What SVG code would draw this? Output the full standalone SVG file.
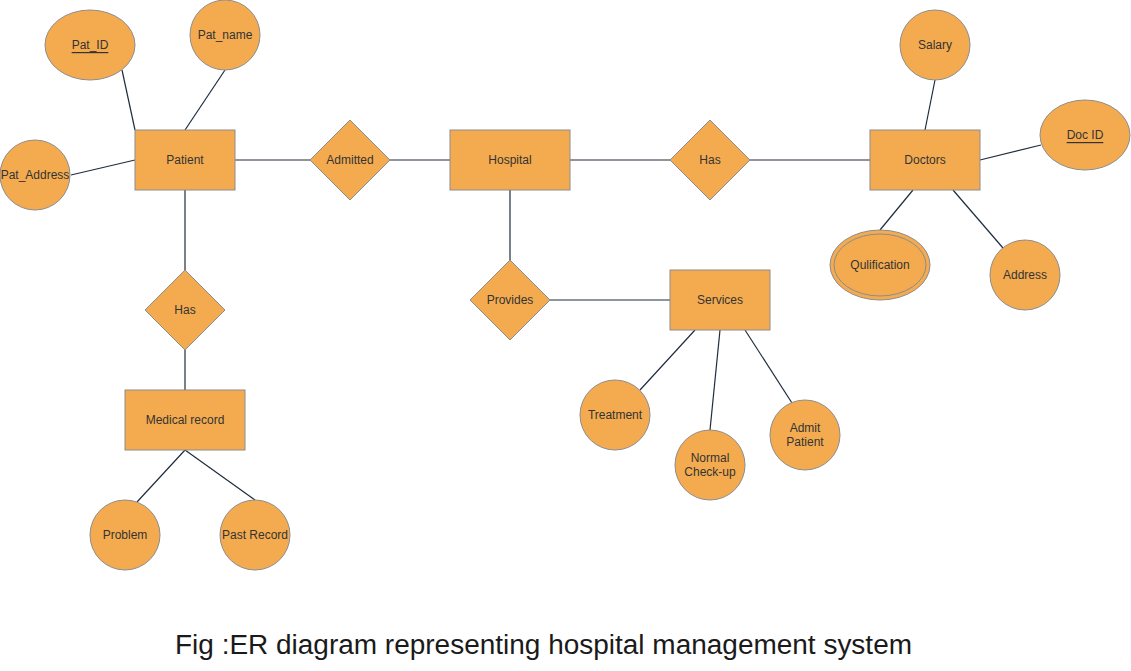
<svg xmlns="http://www.w3.org/2000/svg" width="1131" height="671" viewBox="0 0 1131 671">
<style>
.n{fill:#F4AB50;stroke:#8C8C8C;stroke-width:1}
.t{font-family:"Liberation Sans",Arial,sans-serif;font-size:12px;fill:#333333;text-anchor:middle;dominant-baseline:central}
.u{text-decoration:underline}
.c line{stroke:#1E2D3D;stroke-width:1.2}
</style>
<rect width="1131" height="671" fill="#ffffff"/>
<g class="c" id="connectors">
<line x1="122" y1="70" x2="135" y2="130"/>
<line x1="225" y1="70" x2="185" y2="130"/>
<line x1="71" y1="175" x2="135" y2="160"/>
<line x1="235" y1="160" x2="310" y2="160"/>
<line x1="390" y1="160" x2="450" y2="160"/>
<line x1="570" y1="160" x2="670" y2="160"/>
<line x1="750" y1="160" x2="870" y2="160"/>
<line x1="935" y1="80" x2="925" y2="130"/>
<line x1="980" y1="160" x2="1041" y2="145"/>
<line x1="913" y1="190" x2="880" y2="230"/>
<line x1="953" y1="190" x2="1003" y2="248"/>
<line x1="510" y1="190" x2="510" y2="260"/>
<line x1="550" y1="300" x2="670" y2="300"/>
<line x1="695" y1="330" x2="640" y2="390"/>
<line x1="720" y1="330" x2="710" y2="430"/>
<line x1="745" y1="330" x2="792" y2="403"/>
<line x1="185" y1="190" x2="185" y2="270"/>
<line x1="185" y1="350" x2="185" y2="390"/>
<line x1="185" y1="450" x2="137" y2="502"/>
<line x1="185" y1="450" x2="255" y2="500"/>
</g>
<g id="pat_id"><ellipse class="n" cx="90" cy="45" rx="45" ry="35"/><text class="t u" x="90" y="45">Pat_ID</text></g>
<g id="pat_name"><circle class="n" cx="225" cy="35" r="35"/><text class="t" x="225" y="35">Pat_name</text></g>
<g id="pat_address"><circle class="n" cx="35" cy="175" r="35"/><text class="t" x="35" y="175">Pat_Address</text></g>
<g id="patient"><rect class="n" x="135" y="130" width="100" height="60"/><text class="t" x="185" y="160">Patient</text></g>
<g id="admitted"><polygon class="n" points="350,120 390,160 350,200 310,160"/><text class="t" x="350" y="160">Admitted</text></g>
<g id="hospital"><rect class="n" x="450" y="130" width="120" height="60"/><text class="t" x="510" y="160">Hospital</text></g>
<g id="has_doc"><polygon class="n" points="710,120 750,160 710,200 670,160"/><text class="t" x="710" y="160">Has</text></g>
<g id="doctors"><rect class="n" x="870" y="130" width="110" height="60"/><text class="t" x="925" y="160">Doctors</text></g>
<g id="salary"><circle class="n" cx="935" cy="45" r="35"/><text class="t" x="935" y="45">Salary</text></g>
<g id="doc_id"><ellipse class="n" cx="1085" cy="135" rx="45" ry="35"/><text class="t u" x="1085" y="135">Doc ID</text></g>
<g id="qulification"><ellipse class="n" cx="880" cy="265" rx="50" ry="35"/><ellipse class="n" cx="880" cy="265" rx="46" ry="31"/><text class="t" x="880" y="265">Qulification</text></g>
<g id="address"><circle class="n" cx="1025" cy="275" r="35"/><text class="t" x="1025" y="275">Address</text></g>
<g id="provides"><polygon class="n" points="510,260 550,300 510,340 470,300"/><text class="t" x="510" y="300">Provides</text></g>
<g id="services"><rect class="n" x="670" y="270" width="100" height="60"/><text class="t" x="720" y="300">Services</text></g>
<g id="treatment"><circle class="n" cx="615" cy="415" r="35"/><text class="t" x="615" y="415">Treatment</text></g>
<g id="normal_checkup"><circle class="n" cx="710" cy="465" r="35"/><text class="t" x="710" y="458">Normal</text><text class="t" x="710" y="472">Check-up</text></g>
<g id="admit_patient"><circle class="n" cx="805" cy="435" r="35"/><text class="t" x="805" y="428">Admit</text><text class="t" x="805" y="442">Patient</text></g>
<g id="has_med"><polygon class="n" points="185,270 225,310 185,350 145,310"/><text class="t" x="185" y="310">Has</text></g>
<g id="medical_record"><rect class="n" x="125" y="390" width="120" height="60"/><text class="t" x="185" y="420">Medical record</text></g>
<g id="problem"><circle class="n" cx="125" cy="535" r="35"/><text class="t" x="125" y="535">Problem</text></g>
<g id="past_record"><circle class="n" cx="255" cy="535" r="35"/><text class="t" x="255" y="535">Past Record</text></g>
<text id="caption" x="175" y="654" font-family="'Liberation Sans',Arial,sans-serif" font-size="27" fill="#1a1a1a" textLength="737" lengthAdjust="spacingAndGlyphs">Fig :ER diagram representing hospital management system</text>
</svg>
